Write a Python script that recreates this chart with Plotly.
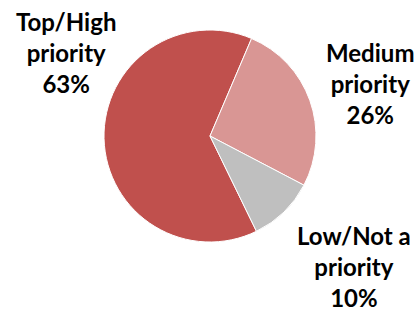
import plotly.graph_objects as go

categories = ["Top/High<br>priority", "Medium<br>priority", "Low/Not a<br>priority"]
values = [63, 26, 10]
colors = ["#C0504D", "#D99694", "#BFBFBF"]
label_pos = [(66, 53), (370, 84), (354, 266)]  # pixel centers

W, H = 418, 311
fig = go.Figure(go.Pie(
    labels=categories,
    values=values,
    sort=False,
    direction="clockwise",
    rotation=154,
    textinfo="none",
    hoverinfo="label+value",
    marker=dict(colors=colors, line=dict(color="white", width=1)),
    domain=dict(x=[104 / W, 316 / W], y=[1 - 242 / H, 1 - 30 / H]),
    showlegend=False,
))

for cat, v, (px, py) in zip(categories, values, label_pos):
    fig.add_annotation(
        x=px / W, y=1 - py / H, xref="paper", yref="paper",
        text=f"<b>{cat}<br>{v}%</b>", showarrow=False,
        font=dict(family="Lato", size=24, color="#000000"),
        xanchor="center", yanchor="middle", align="center",
    )

fig.update_layout(
    width=W, height=H,
    margin=dict(l=0, r=0, t=0, b=0),
    paper_bgcolor="white", plot_bgcolor="white",
)
fig.write_html("out.html", config={"displayModeBar": False},
               post_script="document.body.style.margin='0';")
